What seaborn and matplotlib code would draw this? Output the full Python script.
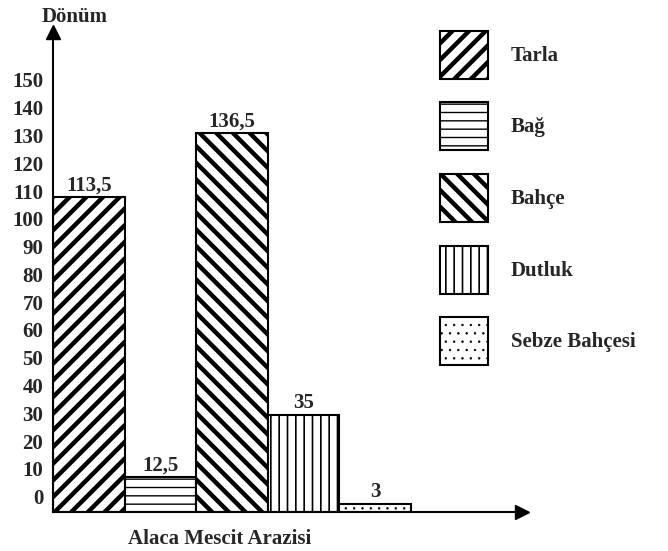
import pandas as pd
import matplotlib
matplotlib.use('Agg')
import matplotlib.pyplot as plt
import matplotlib.transforms as mtransforms
from matplotlib.patches import Patch
import seaborn as sns

# Veriler
alanlar = ['Tarla', 'Bağ', 'Bahçe', 'Dutluk', 'Sebze Bahçesi']
donum = [113.5, 12.5, 136.5, 35, 3]
deger_etiketleri = ['113,5', '12,5', '136,5', '35', '3']
y_tikler = list(range(0, 160, 10))
taramalar = ['//', '--', '\\\\', '||', '..']
tarama_kalinlik = [3.2, 1.0, 3.2, 1.2, 0.5]


def kalinlik_ver(p, lw):
    if hasattr(p, 'set_hatch_linewidth'):
        p.set_hatch_linewidth(lw)


sns.set_style('white')
plt.rcParams['font.family'] = ['Liberation Serif', 'DejaVu Serif']
plt.rcParams['font.weight'] = 'bold'
plt.rcParams['hatch.linewidth'] = 1.0

df = pd.DataFrame({'alan': alanlar, 'donum': donum})

fig = plt.figure(figsize=(6.68, 5.51), dpi=100)
ax = fig.add_axes([0.0793, 0.0708, 0.702, 0.871])

sns.barplot(data=df, x='alan', y='donum', hue='alan', palette=['white'] * 5,
            saturation=1, edgecolor='black', linewidth=1.5, width=1,
            legend=False, ax=ax)

# Tarama desenleri
for cont, h, lw in zip(ax.containers, taramalar, tarama_kalinlik):
    for bar in cont:
        bar.set_hatch(h)
        kalinlik_ver(bar, lw)
for cont, lab in zip(ax.containers, deger_etiketleri):
    ax.bar_label(cont, labels=[lab], padding=1, fontsize=15, fontweight='bold')

ax.set_xlim(-0.5, 6.05)
ax.set_ylim(0, 172.7)
ax.set_xticks([])
ax.set_yticks(y_tikler)
ax.set_yticklabels([str(t) for t in y_tikler], fontsize=15, fontweight='bold')
ax.tick_params(axis='y', length=0, pad=7)
offset = mtransforms.ScaledTranslation(0, 11 / 72, fig.dpi_scale_trans)
for t in ax.yaxis.get_major_ticks():
    t.label1.set_transform(t.label1.get_transform() + offset)

for s in ['top', 'right']:
    ax.spines[s].set_visible(False)
for s in ['left', 'bottom']:
    ax.spines[s].set_linewidth(1.5)
    ax.spines[s].set_color('black')

# Ok uçları
ax.plot([0], [1], marker='^', color='black', markersize=10,
        transform=ax.transAxes, clip_on=False)
ax.plot([1], [0], marker='>', color='black', markersize=10,
        transform=ax.transAxes, clip_on=False)

ax.set_xlabel('Alaca Mescit Arazisi', fontsize=15, fontweight='bold')
ax.xaxis.set_label_coords(0.356, -0.035)
ax.set_ylabel('Dönüm', fontsize=15, fontweight='bold', rotation=0,
              ha='center', va='center')
ax.yaxis.set_label_coords(0.047, 1.031)

# Lejant
tutamaclar = [Patch(facecolor='white', edgecolor='black', hatch=h, linewidth=1.5)
              for h in taramalar]
leg = fig.legend(tutamaclar, alanlar, loc='upper left',
                 bbox_to_anchor=(0.659, 0.944), bbox_transform=fig.transFigure,
                 frameon=False, borderpad=0, borderaxespad=0,
                 handlelength=2.3, handleheight=3.17, handletextpad=1.1,
                 labelspacing=1.13, prop={'size': 15, 'weight': 'bold'})
for p, lw in zip(leg.get_patches(), tarama_kalinlik):
    kalinlik_ver(p, lw)

fig.savefig('out.png', dpi=100)
plt.close(fig)
